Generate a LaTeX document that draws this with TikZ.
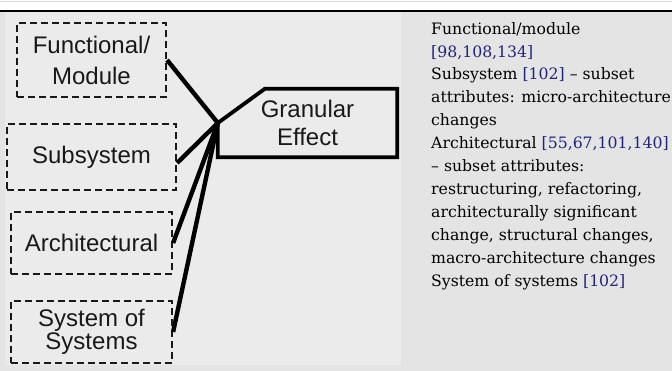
\documentclass[tikz,border=0pt]{standalone}
\usepackage{fontspec}
\setmainfont{DejaVu Serif}
\newfontfamily\diagfont{Liberation Sans}
\usepackage{xcolor}
\usepackage{tikz}
\usetikzlibrary{calc}

\definecolor{cellgray}{HTML}{E4E4E4}
\definecolor{figgray}{HTML}{EBEBEB}
\definecolor{rulegray}{HTML}{DDDDDD}
\definecolor{citeblue}{RGB}{35,35,125}

\begin{document}
\begin{tikzpicture}[
    x=1pt, y=-1pt,
    level/.style={draw=black!90, line width=2.2pt, dash pattern=on 7pt off 4pt, inner sep=0pt, align=center, text=black!90, font=\diagfont\fontsize{24}{23}\selectfont},
    effect/.style={inner sep=0pt, minimum width=179pt, minimum height=68pt, align=center, text=black!90, font=\diagfont\fontsize{24}{28}\selectfont},
    link/.style={line width=4.4pt, black},
    notes/.style={inner sep=0pt, align=left, font=\fontsize{15.7}{22.9}\selectfont}
]
\useasboundingbox (0,0) rectangle (672,371);
\fill[white] (0,0) rectangle (672,371);
\fill[cellgray] (0,12) rectangle (672,371);
\fill[figgray] (5,12) rectangle (401,365);
\draw[rulegray, line width=0.8pt] (0,1) -- (672,1);
\draw[black, line width=2.4pt] (0,11) -- (672,11);

% granularity levels
\node[level, minimum width=149pt, minimum height=74pt, font=\diagfont\fontsize{24}{31}\selectfont] (functional) at (91.5,60) {Functional/\\Module};
\node[level, minimum width=169pt, minimum height=66pt] (subsystem) at (91.5,157) {Subsystem};
\node[level, minimum width=161pt, minimum height=62pt] (architectural) at (91.5,243) {Architectural};
\node[level, minimum width=161pt, minimum height=62pt] (sos) at (91.5,332) {System of\\Systems};

\node[effect] (granular) at (307.5,123) {Granular\\Effect};
\draw[line width=3.8pt, line join=miter] (granular.west) -- ([xshift=47pt]granular.north west) -- (granular.north east) -- (granular.south east) -- (granular.south west) -- cycle;

\draw[link] (functional.east) -- (granular.west);
\draw[link] ([yshift=-6pt]subsystem.east) -- (granular.west);
\draw[link] (architectural.east) -- (granular.west);
\draw[link] (sos.east) -- (granular.west);

% description column
\node[notes, anchor=north west] (notes) at (431,22) {Functional/module\\
\textcolor{citeblue}{[98,108,134]}\\
Subsystem \textcolor{citeblue}{[102]} – subset\\
attributes: micro-architecture\\
changes\\
Architectural \textcolor{citeblue}{[55,67,101,140]}\\
– subset attributes:\\
restructuring, refactoring,\\
architecturally significant\\
change, structural changes,\\
macro-architecture changes\\
System of systems \textcolor{citeblue}{[102]}};
\end{tikzpicture}
\end{document}
